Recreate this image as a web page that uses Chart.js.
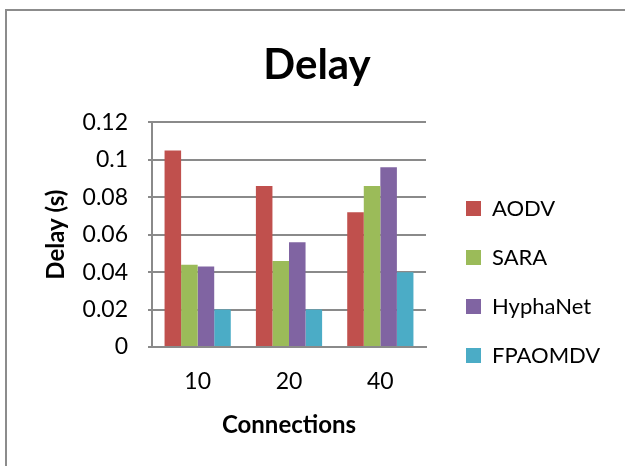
<!DOCTYPE html>
<html>
<head>
<meta charset="utf-8">
<script src="https://cdn.jsdelivr.net/npm/chart.js@4"></script>
<style>
  body { margin: 0; background: #fff; }
  #wrap { width: 625px; height: 466px; }
</style>
</head>
<body>
<div id="wrap"><canvas id="delayChart" width="625" height="466"></canvas></div>
<script>
// values
const connections = ["10", "20", "40"];
const aodv = [0.105, 0.086, 0.072];
const sara = [0.044, 0.046, 0.086];
const hyphanet = [0.043, 0.056, 0.096];
const fpaomdv = [0.02, 0.02, 0.04];
const yTickLabels = ["0", "0.02", "0.04", "0.06", "0.08", "0.1", "0.12"];

const FONT = "Lato";
const GRID = "#8a8a8a";

// grey frame round the chart (only top/left are inside the picture)
const framePlugin = {
    id: "frame",
    beforeDraw(chart){
        const ctx = chart.ctx;
        ctx.save();
        ctx.strokeStyle = "#8c8c8c";
        ctx.lineWidth = 2;
        ctx.strokeRect(6, 10, 1000, 1000);
        ctx.restore();
    }
};

// Excel leaves a gap between the plot and the legend, sits it lower,
// and centres the title over the whole chart
const legendShift = {
    id: "legendShift",
    afterLayout(chart){
        const lg = chart.legend;
        lg.left += 13;
        lg.right = chart.width;
        lg.top += 49; lg.bottom += 49;
        const t = chart.titleBlock;
        t.left += 33; t.right += 33;
    }
};

new Chart(document.getElementById("delayChart"), {
    type: "bar",
    data: {
        labels: connections,
        datasets: [
            {label: "AODV", data: aodv, backgroundColor: "#C0504D"},
            {label: "SARA", data: sara, backgroundColor: "#9BBB59"},
            {label: "HyphaNet", data: hyphanet, backgroundColor: "#8064A2"},
            {label: "FPAOMDV", data: fpaomdv, backgroundColor: "#4BACC6"}
        ]
    },
    options: {
        responsive: false,
        animation: false,
        layout: {padding: {left: 0, right: 57, top: 0, bottom: 0}},
        datasets: {bar: {categoryPercentage: 0.725, barPercentage: 1}},
        plugins: {
            title: {
                display: true,
                text: "Delay",
                color: "#000",
                font: {family: FONT, size: 42, weight: "bold"},
                padding: {top: 40, bottom: 32}
            },
            legend: {
                position: "right",
                align: "center",
                labels: {
                    boxWidth: 15,
                    boxHeight: 15,
                    padding: 27,
                    color: "#000",
                    font: {family: FONT, size: 22}
                }
            },
            tooltip: {enabled: false}
        },
        scales: {
            x: {
                grid: {display: false, drawTicks: false},
                border: {color: GRID, width: 2},
                ticks: {color: "#000", padding: 21, font: {family: FONT, size: 23}},
                title: {
                    display: true,
                    text: "Connections",
                    color: "#000",
                    font: {family: FONT, size: 24, weight: "bold"},
                    padding: {top: 4, bottom: 26}
                },
                afterFit(scale){ scale.height = 119; }
            },
            y: {
                min: 0,
                max: 0.12,
                ticks: {
                    stepSize: 0.02,
                    color: "#000",
                    padding: 20,
                    font: {family: FONT, size: 23},
                    callback: (v, i) => yTickLabels[i]
                },
                grid: {color: GRID, lineWidth: 2, tickLength: 4},
                border: {color: GRID, width: 2},
                title: {
                    display: true,
                    text: "Delay (s)",
                    color: "#000",
                    font: {family: FONT, size: 24, weight: "bold"},
                    padding: {top: 42, bottom: 0}
                },
                afterFit(scale){ scale.width = 152; }
            }
        }
    },
    plugins: [framePlugin, legendShift]
});
</script>
</body>
</html>
